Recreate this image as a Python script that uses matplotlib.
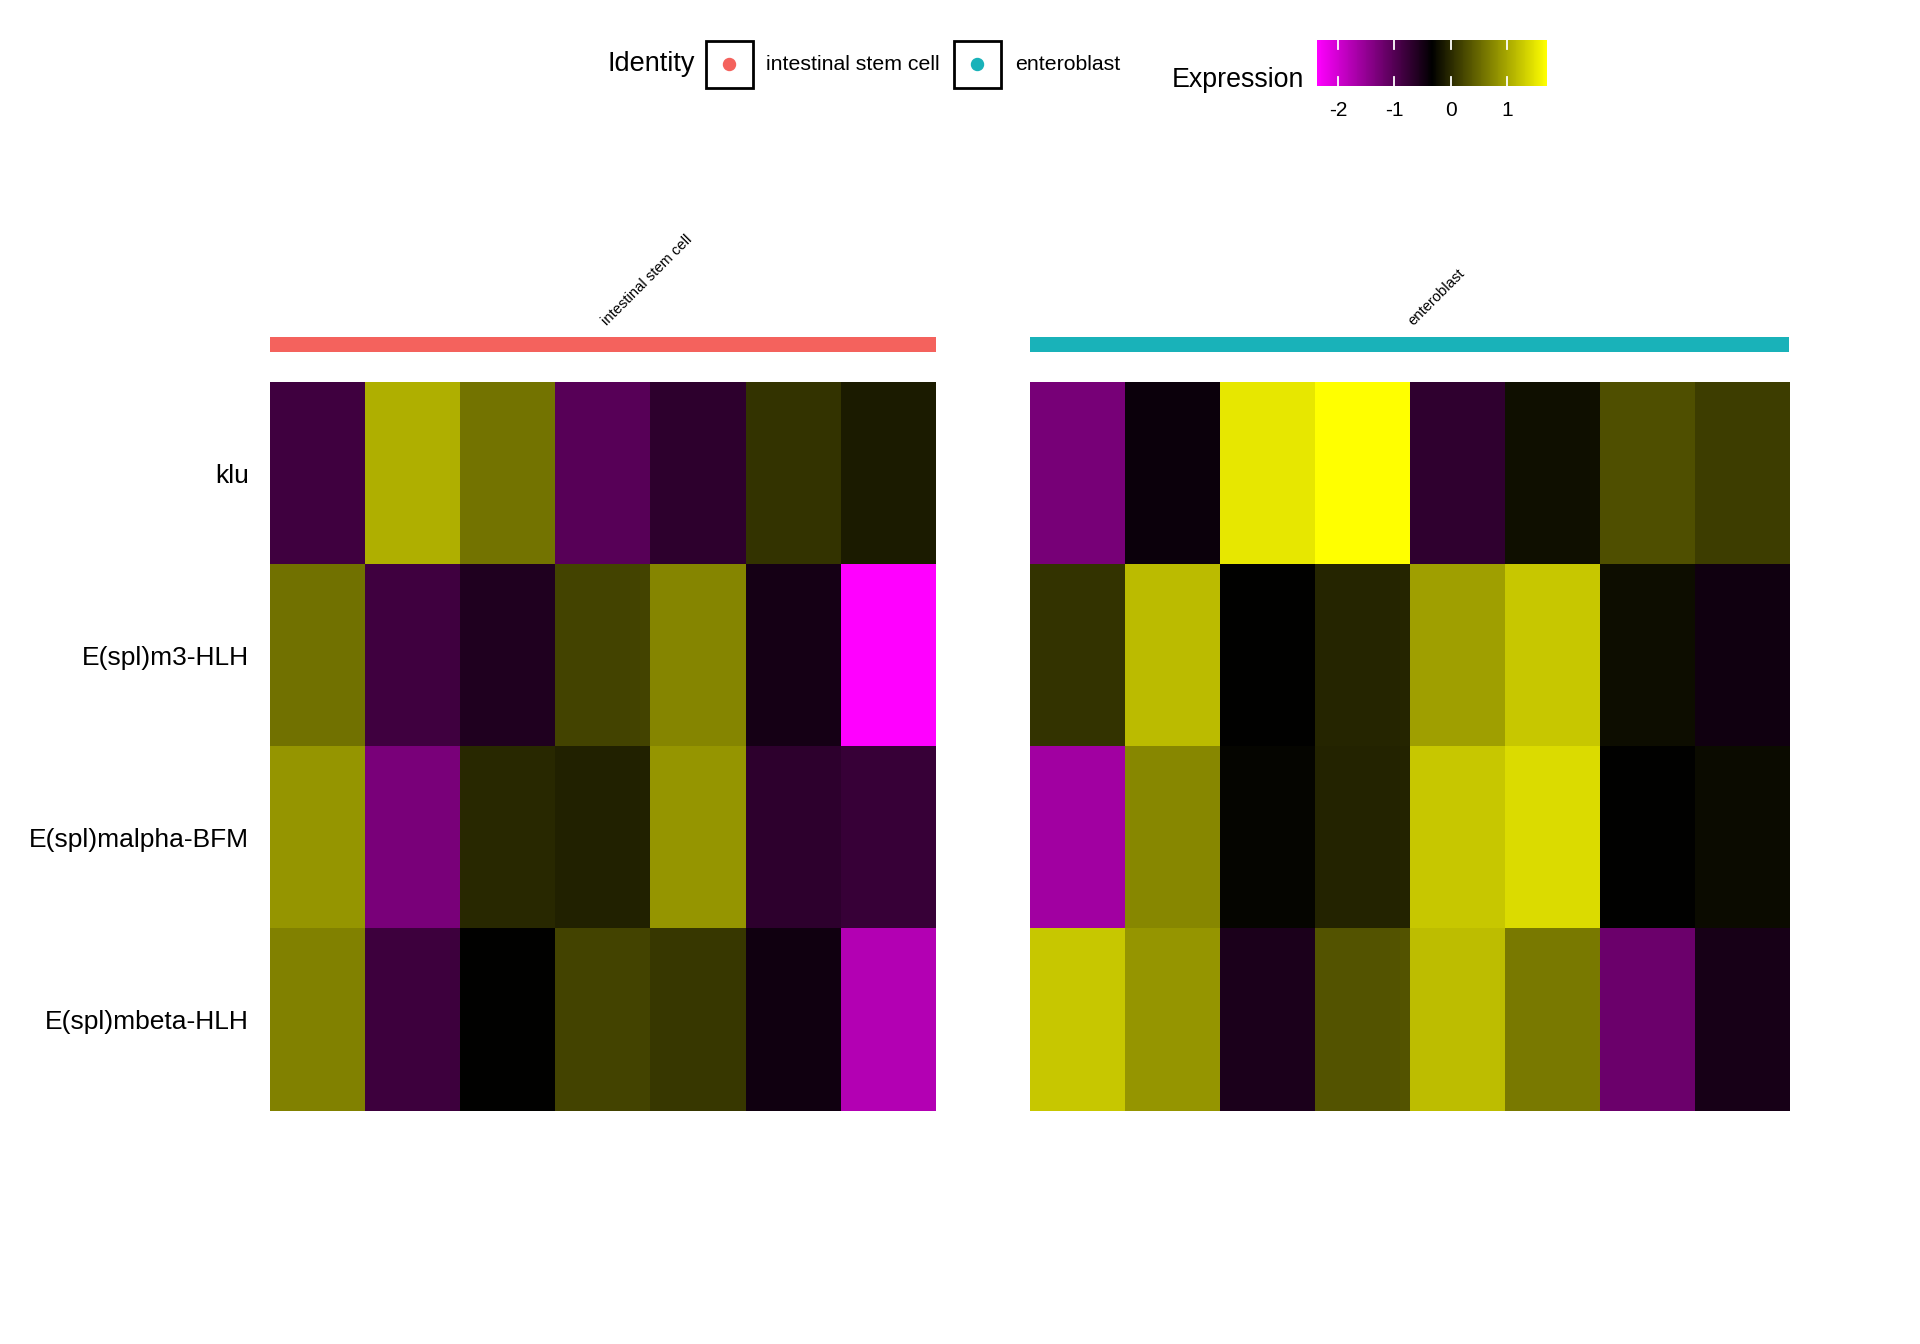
import numpy as np
import matplotlib
matplotlib.use("Agg")
import matplotlib.pyplot as plt
from matplotlib.colors import LinearSegmentedColormap, Normalize
from matplotlib.cm import ScalarMappable
from matplotlib.patches import Rectangle, Circle

plt.rcParams['font.family'] = ['Liberation Sans', 'DejaVu Sans']
plt.rcParams['axes.unicode_minus'] = False

# datos (expresion escalada)
genes = ['klu', 'E(spl)m3-HLH', 'E(spl)malpha-BFM', 'E(spl)mbeta-HLH']
grupos = ['intestinal stem cell', 'enteroblast']
colores_grupo = ['#F4625D', '#19B2B9']

isc_klu = [-0.83, 1.07, 0.59, -1.03, -0.69, 0.08, -0.11]
isc_m3 = [0.57, -0.84, -0.57, 0.20, 0.73, -0.50, -2.37]
isc_malpha = [0.86, -1.29, -0.01, -0.06, 0.86, -0.69, -0.77]
isc_mbeta = [0.69, -0.81, -0.33, 0.21, 0.11, -0.47, -1.76]

eb_klu = [-1.28, -0.41, 1.51, 1.71, -0.71, -0.21, 0.30, 0.15]
eb_m3 = [0.07, 1.16, -0.33, -0.03, 0.94, 1.25, -0.23, -0.46]
eb_malpha = [-1.61, 0.74, -0.29, -0.05, 1.25, 1.42, -0.33, -0.25]
eb_mbeta = [1.25, 0.86, -0.55, 0.33, 1.18, 0.63, -1.19, -0.52]

ticks_cb = [-2, -1, 0, 1]
vmin, vmax = -2.37, 1.71

W, H = 1920, 1344
fig = plt.figure(figsize=(W / 100, H / 100), dpi=100)


def ejes_px(x0, y0, x1, y1):
    return fig.add_axes([x0 / W, 1 - y1 / H, (x1 - x0) / W, (y1 - y0) / H])


cmap = LinearSegmentedColormap.from_list('pby', ['#FF00FF', '#000000', '#FFFF00'])
norm = Normalize(vmin=vmin, vmax=vmax)

isc = np.array([isc_klu, isc_m3, isc_malpha, isc_mbeta])
eb = np.array([eb_klu, eb_m3, eb_malpha, eb_mbeta])

paneles = [(isc, 270, 936), (eb, 1030, 1789)]
for i, (mat, x0, x1) in enumerate(paneles):
    ax = ejes_px(x0, 382, x1, 1111)
    ax.imshow(mat, cmap=cmap, norm=norm, aspect='auto', interpolation='nearest')
    for s in ax.spines.values():
        s.set_visible(False)
    ax.set_xticks([])
    if i == 0:
        ax.set_yticks(range(len(genes)))
        ax.set_yticklabels(genes, fontsize=19)
        ax.tick_params(axis='y', length=0, pad=15)
    else:
        ax.set_yticks([])

    # barra de grupo
    axb = ejes_px(x0, 337, x1, 352)
    axb.set_facecolor(colores_grupo[i])
    axb.set_xticks([])
    axb.set_yticks([])
    for s in axb.spines.values():
        s.set_visible(False)

    fig.text(((x0 + x1) / 2 + 6) / W, 1 - 328 / H, grupos[i], fontsize=10.6,
             rotation=45, rotation_mode='anchor', ha='left', va='bottom')

# leyenda de identidad
ov = fig.add_axes([0, 0, 1, 1], zorder=-1)
ov.set_xlim(0, W)
ov.set_ylim(H, 0)
ov.axis('off')

ov.text(607, 64, 'Identity', fontsize=19.5, ha='left', va='center')
cajas = [(706, 766), (954, 1015)]
for (bx, tx), nombre, col in zip(cajas, grupos, colores_grupo):
    ov.add_patch(Rectangle((bx, 41), 47, 47, fill=False, edgecolor='black', lw=2))
    ov.add_patch(Circle((bx + 23.5, 64.5), 6, color=col))
    ov.text(tx, 64, nombre, fontsize=15.3, ha='left', va='center')

# barra de color
ov.text(1172, 80, 'Expression', fontsize=19.3, ha='left', va='center')
cax = ejes_px(1317, 40, 1547, 86)
cb = fig.colorbar(ScalarMappable(norm=norm, cmap=cmap), cax=cax,
                  orientation='horizontal', ticks=ticks_cb)
cb.outline.set_visible(False)
cax.tick_params(length=0, labelsize=15, pad=11)
for t in ticks_cb:
    cax.axvline(t, 0, 0.2, color='white', lw=1.3)
    cax.axvline(t, 0.8, 1, color='white', lw=1.3)

fig.savefig('out.png', dpi=100, facecolor='white')
